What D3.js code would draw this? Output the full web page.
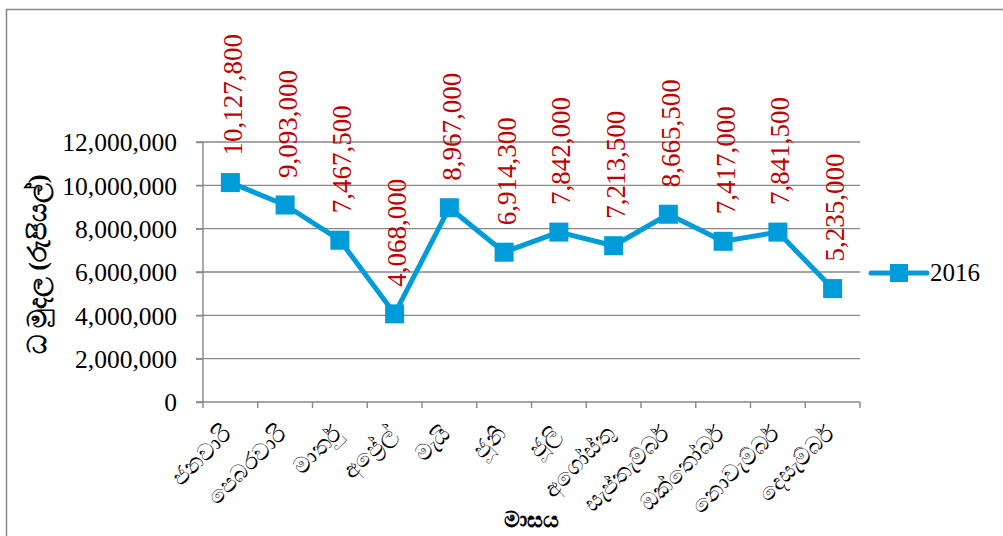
<!DOCTYPE html>
<html>
<head>
<meta charset="utf-8">
<script src="https://cdn.jsdelivr.net/npm/d3@7"></script>
<style>
  body { margin: 0; background: #fff; }
  svg { display: block; }
</style>
</head>
<body>
<div id="chart"></div>
<script>
const months = ["ජනවාරි", "පෙබරවාරි", "මාර්තු", "අප්‍රේල්", "මැයි", "ජූනි",
  "ජූලි", "අගෝස්තු", "සැප්තැම්බර්", "ඔක්තෝබර්", "නොවැම්බර්", "දෙසැම්බර්"];
const values2016 = [10127800, 9093000, 7467500, 4068000, 8967000, 6914300,
  7842000, 7213500, 8665500, 7417000, 7841500, 5235000];
const yTicks = [0, 2000000, 4000000, 6000000, 8000000, 10000000, 12000000];
const seriesName = "2016";
const yTitle = "ධ මුදල (රුපියල්)";
const xTitle = "මාසය";

const width = 1003, height = 536;
const margins = { top: 142, right: 143, bottom: 134, left: 203 };
const plotW = width - margins.left - margins.right;
const plotH = height - margins.top - margins.bottom;
const font = "Liberation Serif";
const blue = "#009bd9";
const gridColor = "#878787";

const svg = d3.select("#chart").append("svg")
  .attr("width", width)
  .attr("height", height)
  .attr("font-family", font);

// outer chart border
svg.append("rect")
  .attr("x", 6.5).attr("y", 9.5)
  .attr("width", width + 20).attr("height", height + 20)
  .attr("fill", "none")
  .attr("stroke", gridColor)
  .attr("stroke-width", 1.5);

const g = svg.append("g").attr("transform", `translate(${margins.left},${margins.top})`);

const x = d3.scaleBand().domain(months).range([0, plotW]);
const y = d3.scaleLinear().domain([0, 12000000]).range([plotH, 0]);
const cx = m => x(m) + x.bandwidth() / 2;

// gridlines
g.append("g")
  .selectAll("line")
  .data(yTicks.filter(t => t > 0))
  .enter().append("line")
  .attr("x1", -7).attr("x2", plotW)
  .attr("y1", d => y(d)).attr("y2", d => y(d))
  .attr("stroke", gridColor)
  .attr("stroke-width", 1.4);

// y axis
g.append("g")
  .call(d3.axisLeft(y).tickValues(yTicks).tickSize(7).tickPadding(19).tickFormat(d3.format(",")))
  .attr("font-family", font)
  .attr("font-size", 25.5)
  .call(a => a.selectAll("line").attr("stroke", gridColor).attr("stroke-width", 1.4))
  .call(a => a.select(".domain").attr("stroke", gridColor).attr("stroke-width", 1.4).attr("d", `M0,${plotH}V0`))
  .call(a => a.selectAll("text")
    .attr("fill", "#000")
    .attr("dy", "0.34em"));

// x axis with ticks on category boundaries
const xAxis = g.append("g").attr("transform", `translate(0,${plotH})`);
xAxis.append("line")
  .attr("x1", -7).attr("x2", plotW)
  .attr("stroke", gridColor).attr("stroke-width", 1.4);
xAxis.selectAll(".xtick")
  .data(months.concat([null]))
  .enter().append("line")
  .attr("class", "xtick")
  .attr("x1", (d, i) => i * x.step()).attr("x2", (d, i) => i * x.step())
  .attr("y1", 0).attr("y2", 6)
  .attr("stroke", gridColor).attr("stroke-width", 1.4);
xAxis.selectAll(".xlabel")
  .data(months)
  .enter().append("text")
  .attr("class", "xlabel")
  .attr("transform", d => `translate(${cx(d) + 3},${33}) rotate(-45)`)
  .attr("text-anchor", "end")
  .attr("font-size", 23)
  .text(d => d);

// line + markers
const line = d3.line()
  .x((d, i) => cx(months[i]))
  .y(d => y(d));

g.append("path")
  .datum(values2016)
  .attr("d", line)
  .attr("fill", "none")
  .attr("stroke", blue)
  .attr("stroke-width", 5)
  .attr("stroke-linejoin", "round");

const sq = 19;
g.selectAll(".marker")
  .data(values2016)
  .enter().append("rect")
  .attr("class", "marker")
  .attr("x", (d, i) => cx(months[i]) - sq / 2)
  .attr("y", d => y(d) - sq / 2)
  .attr("width", sq).attr("height", sq)
  .attr("fill", blue);

// data labels
g.selectAll(".dlabel")
  .data(values2016)
  .enter().append("text")
  .attr("class", "dlabel")
  .attr("transform", (d, i) => `translate(${cx(months[i]) + 2},${y(d) - 27}) rotate(-90)`)
  .attr("dy", "0.35em")
  .attr("text-anchor", "start")
  .attr("fill", "#c00000")
  .attr("font-size", 27)
  .text(d => d3.format(",")(d));

// axis titles
svg.append("text")
  .attr("transform", `translate(37,${margins.top + plotH / 2 - 8}) rotate(-90)`)
  .attr("text-anchor", "middle")
  .attr("dy", "0.35em")
  .attr("font-size", 26)
  .attr("font-weight", "bold")
  .text(yTitle);

svg.append("text")
  .attr("x", margins.left + plotW / 2)
  .attr("y", 527)
  .attr("text-anchor", "middle")
  .attr("font-size", 22)
  .attr("font-weight", "bold")
  .text(xTitle);

// legend
const lg = svg.append("g").attr("transform", "translate(871,273)");
lg.append("line")
  .attr("x1", 0).attr("x2", 56)
  .attr("stroke", blue).attr("stroke-width", 5).attr("stroke-linecap", "round");
lg.append("rect")
  .attr("x", 19).attr("y", -9).attr("width", 18).attr("height", 18)
  .attr("fill", blue);
lg.append("text")
  .attr("x", 59).attr("y", 0)
  .attr("dy", "0.33em")
  .attr("font-size", 25)
  .text(seriesName);
</script>
</body>
</html>
